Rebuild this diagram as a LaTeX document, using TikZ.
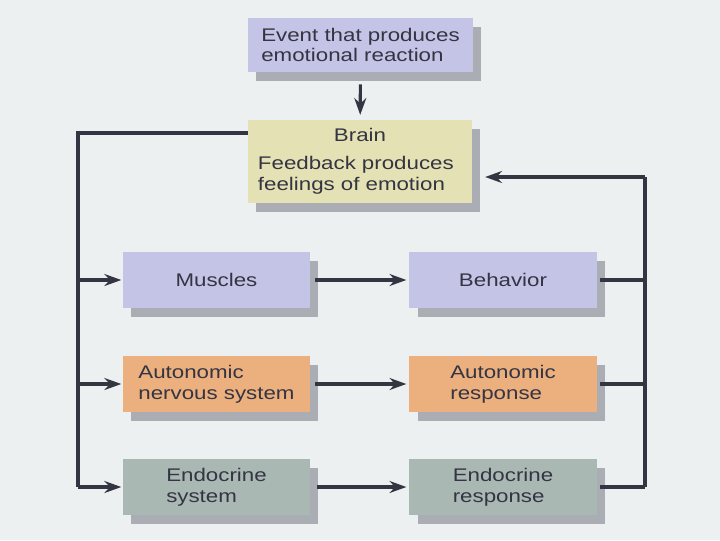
\documentclass[tikz,border=0pt]{standalone}
\usepackage{fontspec}
\setmainfont{Liberation Sans}[FakeStretch=1.22]
\usepackage{tikz}
\usetikzlibrary{arrows.meta, positioning, calc, shadows}
\definecolor{bgpaper}{RGB}{236,240,241}
\definecolor{boxlilac}{RGB}{196,196,230}
\definecolor{boxkhaki}{RGB}{228,226,180}
\definecolor{boxorange}{RGB}{236,176,126}
\definecolor{boxslate}{RGB}{170,184,180}
\definecolor{shadowgrey}{RGB}{160,162,170}
\definecolor{inkdark}{RGB}{52,52,66}

\begin{document}
\begin{tikzpicture}[
    x=0.025cm, y=-0.025cm,
    box/.style={rectangle, text=inkdark, align=left,
                minimum width=4.675cm, minimum height=1.4cm, inner sep=2pt,
                font=\fontsize{13}{14.8}\selectfont,
                drop shadow={shadow xshift=0.21cm, shadow yshift=-0.22cm,
                             fill=shadowgrey, opacity=0.85}},
    line/.style={draw=inkdark, line width=2.2pt},
    arr/.style={line, -{Stealth[length=12pt, width=8.5pt, inset=4pt]}}
]
% page
\fill[bgpaper] (0,0) rectangle (720,540);

% top of the chart
\node[box, fill=boxlilac, minimum width=5.625cm, minimum height=1.35cm]
    (event) at (360.5,45) {Event that produces\\emotional reaction};
\node[box, fill=boxkhaki, minimum width=5.6cm, minimum height=2.075cm,
      text width=5.1cm]
    (brain) at (360,161.5)
    {\makebox[\linewidth]{Brain}\\[5pt]Feedback produces\\feelings of emotion};

% left column
\node[box, fill=boxlilac]  (muscles)  at (216.5,280) {Muscles};
\node[box, fill=boxorange] (ans)      at (216.5,384) {Autonomic\\nervous system};
\node[box, fill=boxslate]  (endosys)  at (216.5,487) {Endocrine\\system};

% right column
\node[box, fill=boxlilac]  (behavior) at (503,280) {Behavior};
\node[box, fill=boxorange] (autoresp) at (503,384) {Autonomic\\response};
\node[box, fill=boxslate]  (endoresp) at (503,487) {Endocrine\\response};

% bus lines
\coordinate (ltop) at (78,133);
\coordinate (lbot) at (78,487);
\coordinate (rtop) at (645,177);
\coordinate (rbot) at (645,487);

\draw[arr, shorten <=0.3cm, shorten >=0.12cm] (event) -- (brain);

\draw[line] (ltop -| brain.west) -- (ltop) -- (lbot);
\foreach \b in {muscles, ans, endosys}
    \draw[arr, shorten >=1pt] (\b.west -| ltop) -- (\b.west);

\draw[arr, shorten <=3pt, shorten >=2pt] (muscles) -- (behavior);
\draw[arr, shorten <=3pt, shorten >=2pt] (ans) -- (autoresp);
\draw[arr, shorten <=5pt, shorten >=2pt] (endosys) -- (endoresp);

\foreach \b in {behavior, autoresp, endoresp}
    \draw[line, shorten <=2pt] (\b.east) -- (\b.east -| rtop);
\draw[line] (rbot) -- (rtop);
\draw[arr, shorten >=0.32cm] (rtop) -- (rtop -| brain.east);
\end{tikzpicture}
\end{document}
